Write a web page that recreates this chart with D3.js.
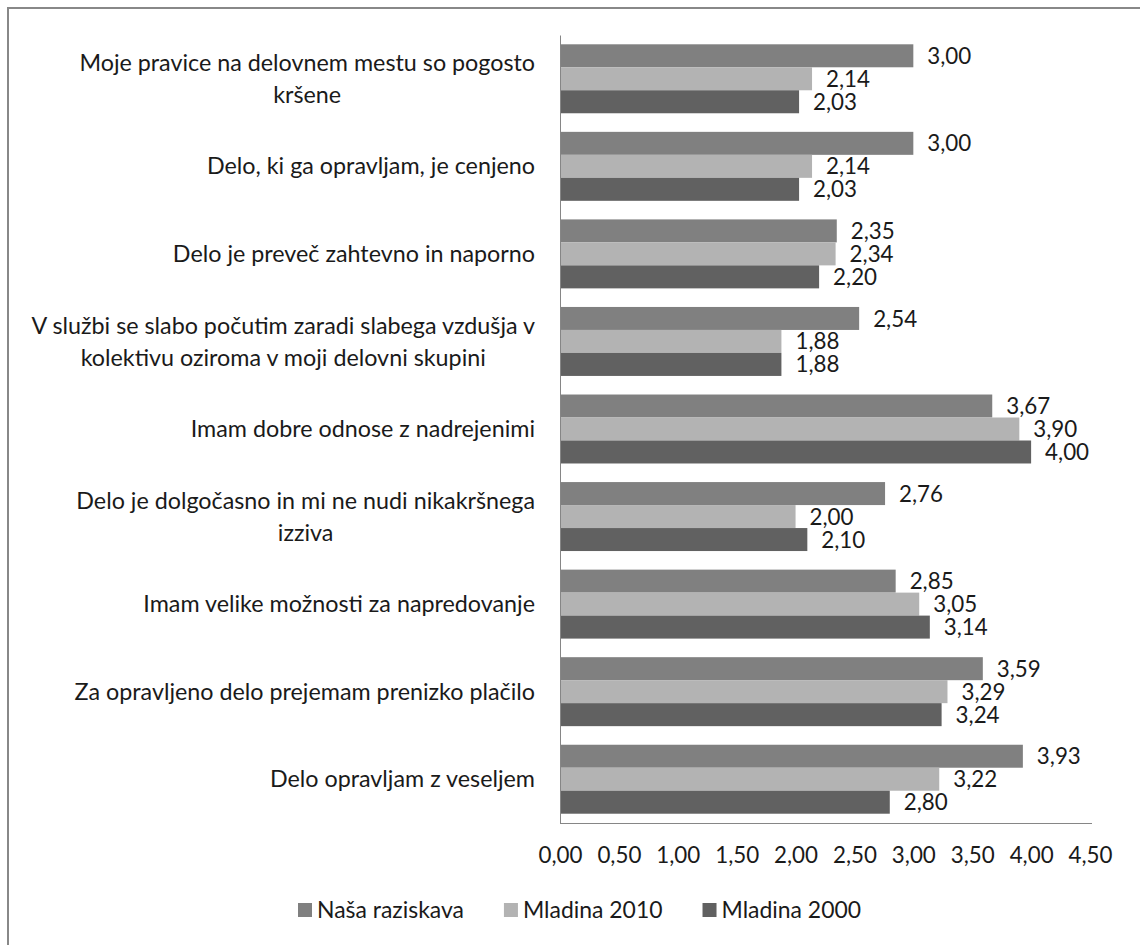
<!DOCTYPE html>
<html>
<head>
<meta charset="utf-8">
<script src="https://cdn.jsdelivr.net/npm/d3@7/dist/d3.min.js"></script>
<style>
  html, body { margin: 0; padding: 0; background: #fff; }
  svg { display: block; }
  text { font-family: Lato, "Open Sans", "Noto Sans", sans-serif; fill: #1a1a1a; }
</style>
</head>
<body>
<svg id="chart" width="1140" height="945"></svg>
<script>
// ---- data ----
const categories = [
  "Moje pravice na delovnem mestu so pogosto\nkršene",
  "Delo, ki ga opravljam, je cenjeno",
  "Delo je preveč zahtevno in naporno",
  "V službi se slabo počutim zaradi slabega vzdušja v\nkolektivu oziroma v moji delovni skupini",
  "Imam dobre odnose z nadrejenimi",
  "Delo je dolgočasno in mi ne nudi nikakršnega\nizziva",
  "Imam velike možnosti za napredovanje",
  "Za opravljeno delo prejemam prenizko plačilo",
  "Delo opravljam z veseljem"
];
const seriesNames = ["Naša raziskava", "Mladina 2010", "Mladina 2000"];
const nasaRaziskava = [3.00, 3.00, 2.35, 2.54, 3.67, 2.76, 2.85, 3.59, 3.93];
const mladina2010   = [2.14, 2.14, 2.34, 1.88, 3.90, 2.00, 3.05, 3.29, 3.22];
const mladina2000   = [2.03, 2.03, 2.20, 1.88, 4.00, 2.10, 3.14, 3.24, 2.80];
const xTicks = [0, 0.5, 1, 1.5, 2, 2.5, 3, 3.5, 4, 4.5];
const colors = ["#808080", "#b3b3b3", "#616161"];

const seriesValues = [nasaRaziskava, mladina2010, mladina2000];
const fmt = v => v.toFixed(2).replace(".", ",");

const svg = d3.select("#chart");

// fit font size so that text reaches a target width
function fitSize(str, target, base = 20) {
  const t = svg.append("text").attr("font-size", base).text(str);
  const w = t.node().getComputedTextLength();
  t.remove();
  return base * target / w;
}
const catSize = fitSize("Moje pravice na delovnem mestu so pogosto", 456);
const numSize = fitSize("3,00", 44);
const legSize = fitSize("Naša raziskava", 147);

// frame
svg.append("rect")
  .attr("x", 8).attr("y", 8).attr("width", 1200).attr("height", 1000)
  .attr("fill", "none").attr("stroke", "#888").attr("stroke-width", 2);

// scales
const x = d3.scaleLinear().domain([0, 4.5]).range([560, 1090]);
const y0 = d3.scaleBand().domain(d3.range(categories.length))
  .range([35, 823]).paddingInner(0.2123).paddingOuter(0.10615);
const y1 = d3.scaleBand().domain(d3.range(seriesNames.length))
  .range([0, y0.bandwidth()]);

// bars
const groups = svg.append("g").selectAll("g")
  .data(categories.map((c, i) => i))
  .join("g")
  .attr("transform", i => `translate(0,${y0(i)})`);

groups.selectAll("rect")
  .data(i => seriesValues.map((s, k) => ({k, v: s[i]})))
  .join("rect")
  .attr("x", x(0))
  .attr("y", d => y1(d.k))
  .attr("width", d => x(d.v) - x(0))
  .attr("height", y1.bandwidth())
  .attr("fill", d => colors[d.k]);

groups.selectAll("text.val")
  .data(i => seriesValues.map((s, k) => ({k, v: s[i]})))
  .join("text")
  .attr("class", "val")
  .attr("x", d => x(d.v) + 14)
  .attr("y", d => y1(d.k) + y1.bandwidth() / 2)
  .attr("dy", "0.36em")
  .attr("font-size", numSize)
  .text(d => fmt(d.v));

// y axis line
const yAxis = svg.append("g").attr("transform", `translate(${x(0)},0)`)
  .call(d3.axisLeft(y0).tickSize(0).tickFormat(""));
yAxis.select(".domain").attr("stroke", "#868686");

// category labels
const lineH = 32;
categories.forEach((c, i) => {
  const lines = c.split("\n");
  const g = svg.append("g");
  const cy = y0(i) + y0.bandwidth() / 2;
  const texts = lines.map((ln, j) => g.append("text")
    .attr("font-size", catSize)
    .attr("y", cy + (j - (lines.length - 1) / 2) * lineH)
    .attr("dy", "0.35em")
    .attr("text-anchor", "middle")
    .text(ln));
  const bw = d3.max(texts, t => t.node().getComputedTextLength());
  const right = 535;
  texts.forEach(t => t.attr("x", right - bw / 2));
});

// x axis
const xAxis = svg.append("g").attr("transform", "translate(0,823)")
  .call(d3.axisBottom(x).tickValues(xTicks).tickSize(0).tickFormat(fmt));
xAxis.select(".domain").attr("stroke", "#868686").attr("d", `M${x(0)},0.5H${x(4.5) + 2}`);
xAxis.selectAll(".tick text")
  .attr("y", 32).attr("dy", "0.35em")
  .attr("font-size", numSize)
  .style("font-family", "Lato, 'Open Sans', sans-serif")
  .attr("fill", "#1a1a1a");

// legend
const legend = svg.append("g");
let lx = 298;
seriesNames.forEach((name, k) => {
  legend.append("rect").attr("x", lx).attr("y", 903).attr("width", 14).attr("height", 14)
    .attr("fill", colors[k]);
  const t = legend.append("text").attr("x", lx + 19).attr("y", 910).attr("dy", "0.35em")
    .attr("font-size", legSize).text(name);
  lx += 19 + t.node().getComputedTextLength() + 40;
});
</script>
</body>
</html>
